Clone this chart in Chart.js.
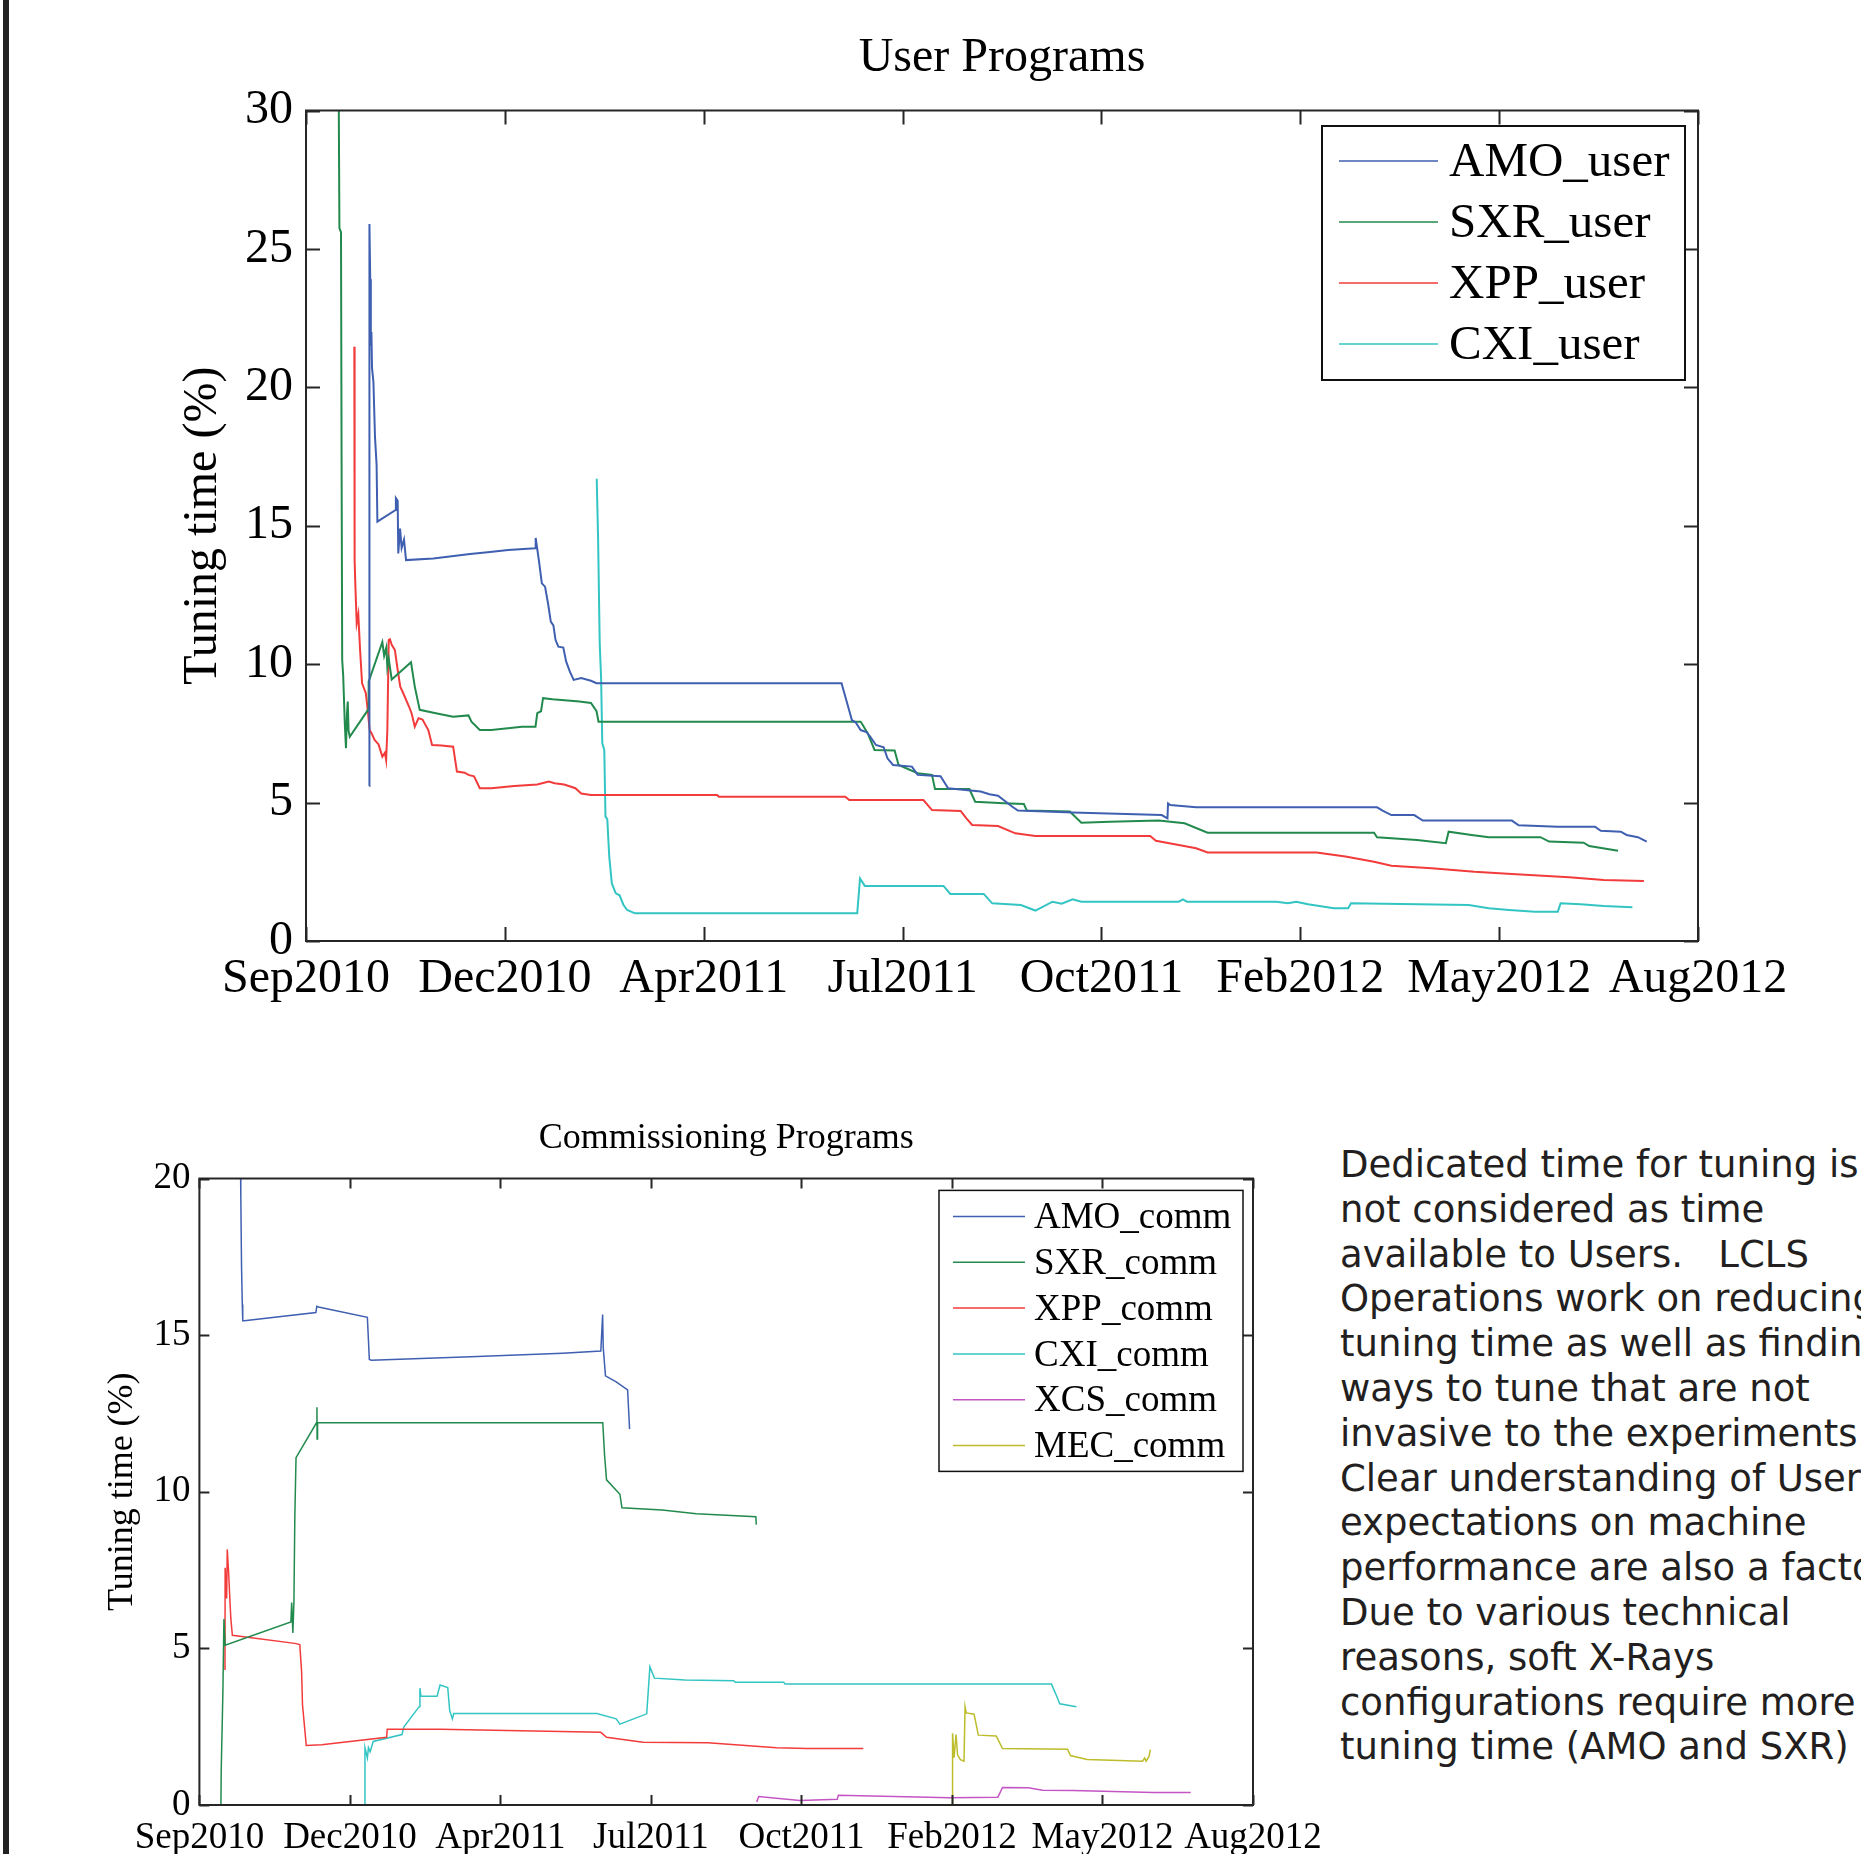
<!DOCTYPE html>
<html><head><meta charset="utf-8">
<script src="https://cdn.jsdelivr.net/npm/chart.js@4.4.1/dist/chart.umd.min.js"></script>
<style>
html,body{margin:0;padding:0;background:#fff;width:1861px;height:1854px;overflow:hidden;position:relative}
#bar{position:absolute;left:3px;top:0;width:6px;height:1854px;background:#222}
#c1{position:absolute;left:0;top:0}
#c2{position:absolute;left:0;top:1060px}
#note{position:absolute;left:1340px;top:1143px;font-family:'DejaVu Sans';font-size:37px;line-height:44.8px;color:#231f20;white-space:pre;z-index:2}
</style></head>
<body>
<div id="bar"></div>
<canvas id="c1" width="1861" height="1010"></canvas>
<canvas id="c2" width="1335" height="794"></canvas>
<div id="note">Dedicated time for tuning is
not considered as time
available to Users.   LCLS
Operations work on reducing
tuning time as well as finding
ways to tune that are not
invasive to the experiments.
Clear understanding of Users
expectations on machine
performance are also a factor.
Due to various technical
reasons, soft X-Rays
configurations require more
tuning time (AMO and SXR)</div>
<script>
// x values are days from the Sep2010 axis origin; ticks every 100 days
const xTickLabels = ['Sep2010','Dec2010','Apr2011','Jul2011','Oct2011','Feb2012','May2012','Aug2012'];
const userLabels = ['AMO_user','SXR_user','XPP_user','CXI_user'];
const commLabels = ['AMO_comm','SXR_comm','XPP_comm','CXI_comm','XCS_comm','MEC_comm'];

const amoUser = [[31.8,5.6],[31.9,25.9],[32.3,23.9],[32.6,21.5],[32.9,22.0],[33.2,20.7],[33.9,20.2],[34.7,18.2],[35.5,17.2],[35.9,15.15],[45.1,15.57],[45.2,16.0],[46.1,15.9],[46.4,14.0],[47.3,14.9],[48.1,14.2],[49.3,14.5],[50.3,13.76],[64,13.82],[73.3,13.9],[82.5,13.98],[92.5,14.05],[101.7,14.12],[115.2,14.19],[115.5,14.56],[117.1,13.76],[118.6,12.92],[120.2,12.8],[121.7,12.2],[123.1,11.54],[124.4,11.4],[125.5,10.87],[126.9,10.63],[129.4,10.6],[130.8,10.1],[132.7,9.73],[134.6,9.43],[138.4,9.5],[143.3,9.4],[146.1,9.31],[269.3,9.31],[272.6,8.47],[274.5,7.98],[276.4,7.9],[278.9,7.62],[281.8,7.55],[283.7,7.38],[286.6,7.08],[290.5,7.0],[292.4,6.6],[295.2,6.36],[304.7,6.3],[307.6,6.0],[319.1,5.95],[322.9,5.52],[339.3,5.4],[343.7,5.3],[348,5.25],[355.2,4.85],[358,4.71],[385.5,4.64],[430.3,4.55],[433.2,4.43],[433.5,4.97],[434.6,4.91],[447.6,4.83],[538.6,4.83],[541.4,4.71],[545.8,4.55],[557.3,4.55],[561.6,4.35],[606.4,4.35],[609.8,4.18],[629.5,4.13],[648.2,4.13],[651.1,3.98],[661.2,3.95],[664.1,3.83],[669.8,3.75],[674.2,3.59]];
const sxrUser = [[16.5,30],[16.8,25.75],[17.6,25.6],[17.9,17.2],[18.2,10.15],[18.7,9.6],[19.5,7.87],[20.1,6.96],[20.6,8.2],[21.0,8.65],[21.4,7.6],[22.0,7.38],[31.2,8.35],[31.5,9.37],[38.4,10.8],[39.3,10.3],[40.4,10.6],[40.9,9.9],[41.6,10.2],[43.1,9.45],[52.8,10.07],[54.7,9.19],[57.2,8.35],[65.3,8.23],[74.0,8.1],[81.7,8.15],[83.2,7.92],[87.4,7.62],[93.2,7.62],[108.6,7.74],[115.4,7.74],[116.3,8.23],[118.2,8.3],[119.2,8.77],[124.0,8.73],[137.5,8.65],[143.3,8.6],[146.1,8.3],[147.1,7.92],[278.9,7.92],[279.6,7.85],[282.5,7.5],[285.9,6.9],[296.0,6.88],[298.0,6.36],[307.6,6.06],[314.8,6.0],[316.3,5.49],[333.6,5.49],[336.5,5.03],[350.9,4.98],[361.0,4.95],[362.5,4.71],[384.1,4.68],[389.9,4.27],[404.3,4.31],[428.8,4.35],[441.8,4.25],[453.4,3.91],[537.1,3.91],[538.6,3.75],[558.7,3.65],[573.2,3.53],[574.6,3.95],[586.1,3.83],[594.8,3.75],[620.8,3.75],[625.1,3.59],[642.5,3.55],[645.3,3.43],[659.8,3.26]];
const xppUser = [[24.3,21.47],[24.4,17.7],[24.5,13.76],[24.9,12.68],[25.5,11.48],[26.3,11.8],[27.2,10.51],[28.2,9.31],[30.1,8.95],[31.2,8.23],[32.0,7.62],[33.0,7.5],[34.5,7.26],[36.5,7.1],[38.4,6.66],[39.7,6.8],[40.3,6.54],[40.9,7.6],[41.6,10.87],[42.2,10.9],[43.1,10.7],[44.7,10.51],[46.1,9.79],[47.4,9.19],[48.9,8.95],[51.8,8.47],[53.2,8.2],[54.7,7.74],[56.6,8.05],[58.6,8.0],[61.5,7.62],[63.4,7.08],[68.2,7.06],[74.0,7.02],[75.9,6.12],[79.8,6.08],[81.7,6.0],[84.5,5.95],[87.4,5.52],[93.2,5.52],[104.7,5.6],[116.3,5.65],[122.1,5.76],[125.0,5.7],[129.8,5.65],[135.5,5.52],[138.4,5.33],[143.3,5.27],[206.7,5.27],[207.7,5.21],[271.2,5.21],[273.2,5.09],[310.5,5.09],[314.8,4.73],[329.2,4.7],[332.1,4.43],[335.0,4.19],[348,4.15],[356.7,3.89],[366.8,3.79],[424.5,3.79],[427.4,3.62],[438.9,3.47],[447.6,3.35],[453.4,3.2],[508.2,3.2],[522.7,3.05],[537.1,2.86],[545.8,2.72],[566.0,2.63],[587.6,2.5],[606.4,2.42],[635.2,2.3],[652.6,2.2],[672.8,2.17]];
const cxiUser = [[146.2,16.7],[146.9,14.49],[147.7,10.75],[148.4,9.49],[149.0,7.14],[150.0,6.9],[150.6,4.49],[151.5,4.4],[152.5,3.05],[153.8,2.08],[155.8,1.72],[157.7,1.65],[159.6,1.31],[161.5,1.12],[165.4,1.0],[277.2,1.0],[278.6,2.26],[281.0,1.99],[320.6,1.99],[324.0,1.7],[340.8,1.7],[345.1,1.36],[359.5,1.3],[366.8,1.1],[375.4,1.42],[380,1.35],[385.5,1.51],[389.9,1.42],[438.9,1.42],[441,1.5],[443,1.42],[488.0,1.42],[493.8,1.36],[498,1.42],[503.9,1.33],[516.9,1.18],[524.1,1.18],[525.5,1.36],[584.7,1.3],[594.8,1.18],[605,1.12],[618,1.06],[629.5,1.06],[630.9,1.36],[641,1.33],[652.6,1.26],[667,1.22]];

const amoComm = [[27.3,20.5],[27.5,19.5],[28.0,17.16],[28.5,15.98],[28.8,15.46],[29.8,15.46],[77.4,15.72],[78.0,15.92],[79.1,15.9],[111.6,15.57],[112.9,14.22],[114.2,14.2],[180.3,14.31],[241.3,14.42],[266.7,14.49],[267.9,15.66],[268.3,14.6],[269.8,13.7],[276.9,13.51],[284.5,13.25],[285.8,12.0]];
const sxrComm = [[14.3,0],[14.5,1.12],[15.6,3.6],[16.3,5.94],[17.1,5.1],[60.8,5.84],[61.3,6.46],[62.1,5.49],[62.8,6.5],[63.4,9.2],[64.2,11.09],[77.8,12.2],[78.1,12.7],[78.2,11.68],[78.5,12.2],[268,12.2],[269.2,11.16],[270.5,10.38],[279.4,9.92],[280.7,9.49],[307.4,9.42],[330.2,9.3],[369.7,9.2],[370.0,8.95]];
const xppComm = [[17.0,4.31],[17.1,7.57],[18.1,6.59],[18.5,8.16],[19.4,7.44],[20.2,6.6],[20.9,5.94],[21.9,5.42],[63.4,5.16],[66.7,5.12],[67.9,4.25],[68.5,3.2],[71,1.9],[81.2,1.92],[124.4,2.16],[124.8,2.42],[159.9,2.42],[266.7,2.32],[270.5,2.16],[294.7,2.0],[337.8,1.99],[383.5,1.83],[403.6,1.8],[441.1,1.8]];
const cxiComm = [[109.9,0],[110.0,1.83],[111.6,1.5],[112.3,1.83],[113.4,1.7],[115.5,2.03],[134.6,2.25],[135.8,2.49],[146.0,3.14],[146.5,3.73],[147.2,3.47],[157.9,3.47],[159.9,3.83],[165,3.75],[166.3,3.01],[168.1,2.75],[169,2.92],[264.1,2.92],[276.9,2.75],[279.4,2.58],[297.2,2.91],[299.3,4.41],[302.3,4.05],[322.6,3.99],[355,3.97],[356,3.92],[388.2,3.92],[389,3.86],[566.1,3.86],[569.6,3.47],[571.6,3.23],[582.7,3.14]];
const xcsComm = [[370.3,0.1],[371.6,0.27],[398.9,0.14],[423.8,0.18],[424.5,0.31],[498.5,0.23],[530.5,0.25],[533.6,0.56],[550.7,0.55],[560.2,0.47],[580.3,0.46],[633.7,0.4],[658.6,0.4]];
const mecComm = [[500.2,0],[500.4,2.29],[501.4,1.51],[502.7,2.25],[503.7,1.6],[505.6,1.45],[508,1.4],[508.7,3.14],[509.5,2.94],[514.7,2.9],[517.5,2.23],[529.4,2.2],[533.6,1.8],[576.8,1.78],[578.7,1.58],[589.8,1.45],[626.6,1.4],[628,1.5],[629,1.4],[630.9,1.55],[631.8,1.77]];

const colors = ['#3f5fb0','#238a4e','#f23b3b','#33c4c4','#c455c4','#bdbd2c'];
const SERIF = 'Liberation Serif';

function toPts(arr){ return arr.map(p => ({x:p[0], y:p[1]})); }

const framePlugin = {
  id:'frame',
  afterDraw(chart, args, o){
    const {ctx, chartArea:a, scales:{x, y}} = chart;
    ctx.save();
    ctx.strokeStyle = '#262626'; ctx.lineWidth = o.lw;
    ctx.beginPath();
    x.ticks.forEach(t => { const p = Math.round(x.getPixelForValue(t.value)) + 0.5;
      ctx.moveTo(p, a.bottom); ctx.lineTo(p, a.bottom - o.len);
      ctx.moveTo(p, a.top); ctx.lineTo(p, a.top + o.len); });
    y.ticks.forEach(t => { const p = Math.round(y.getPixelForValue(t.value)) + 0.5;
      ctx.moveTo(a.left, p); ctx.lineTo(a.left + o.len, p);
      ctx.moveTo(a.right, p); ctx.lineTo(a.right - o.len, p); });
    ctx.stroke();
    ctx.strokeRect(a.left, a.top, a.right - a.left, a.bottom - a.top);
    ctx.restore();
  }
};
const boxLegend = {
  id:'boxLegend',
  afterDraw(chart, args, o){
    const ctx = chart.ctx;
    ctx.save();
    ctx.fillStyle = '#fff'; ctx.fillRect(o.x, o.y, o.w, o.h);
    ctx.strokeStyle = '#111'; ctx.lineWidth = o.lw; ctx.strokeRect(o.x, o.y, o.w, o.h);
    ctx.font = o.font + 'px "' + SERIF + '"'; ctx.textBaseline = 'middle'; ctx.textAlign = 'left';
    chart.data.datasets.forEach((ds, i) => {
      const yy = o.row0 + i * o.dy;
      ctx.strokeStyle = ds.borderColor; ctx.lineWidth = 1.5;
      ctx.beginPath(); ctx.moveTo(o.l0, yy); ctx.lineTo(o.l1, yy); ctx.stroke();
      ctx.fillStyle = '#000'; ctx.fillText(ds.label, o.tx, yy + 2);
    });
    ctx.restore();
  }
};

function makeChart(id, labels, series, c){
  return new Chart(document.getElementById(id), {
    type:'line',
    data:{datasets: series.map((s, i) => ({label: labels[i], data: toPts(s), borderColor: colors[i], backgroundColor: colors[i], borderWidth: c.bw, pointRadius: 0, tension: 0, fill: false}))},
    options:{
      responsive:false, animation:false, devicePixelRatio:1, events:[],
      layout:{padding:{left:0, right:c.padR, top:0, bottom:0}},
      plugins:{
        legend:{display:false}, tooltip:{enabled:false},
        title:{display:true, text:c.title, color:'#000', fullSize:false, font:{family:SERIF, size:c.titleSize, weight:'normal'}, padding:{top:c.titleTop, bottom:c.titleBottom}},
        frame:{lw:2, len:c.tickLen},
        boxLegend:c.legend
      },
      scales:{
        x:{type:'linear', min:0, max:700, afterFit(s){ s.height = c.xH; },
           ticks:{stepSize:100, autoSkip:false, maxRotation:0, padding:c.xPad, color:'#000', font:{family:SERIF, size:c.tickSize}, callback:(v) => xTickLabels[Math.round(v / 100)]},
           grid:{display:false}, border:{display:false}},
        y:{min:0, max:c.yMax, afterFit(s){ s.width = c.yW; },
           ticks:{stepSize:5, padding:c.yPad, color:'#000', font:{family:SERIF, size:c.tickSize}},
           title:{display:true, text:'Tuning time (%)', color:'#000', font:{family:SERIF, size:c.yTitleSize}, padding:{top:c.yTitlePad, bottom:0}},
           grid:{display:false}, border:{display:false}}
      }
    },
    plugins:[framePlugin, boxLegend]
  });
}

makeChart('c1', userLabels, [amoUser, sxrUser, xppUser, cxiUser], {
  bw:2, padR:163, title:'User Programs', titleSize:48, titleTop:29.5, titleBottom:23.4,
  tickLen:14, xH:69, xPad:2, yW:306, yPad:5, tickSize:48, yMax:30, yTitleSize:48, yTitlePad:175,
  legend:{x:1322, y:126, w:363, h:254, l0:1339, l1:1438, tx:1449, row0:161, dy:61, font:49, lw:2}
});
makeChart('c2', commLabels, [amoComm, sxrComm, xppComm, cxiComm, xcsComm, mecComm], {
  bw:1.5, padR:82, title:'Commissioning Programs', titleSize:36, titleTop:57.4, titleBottom:17.9,
  tickLen:10, xH:49, xPad:3, yW:199.4, yPad:1, tickSize:37, yMax:20, yTitleSize:36, yTitlePad:101,
  legend:{x:939, y:130.4, w:304, h:281, l0:953, l1:1025, tx:1034, row0:156.5, dy:45.8, font:37, lw:1.5}
});
</script>
</body></html>
